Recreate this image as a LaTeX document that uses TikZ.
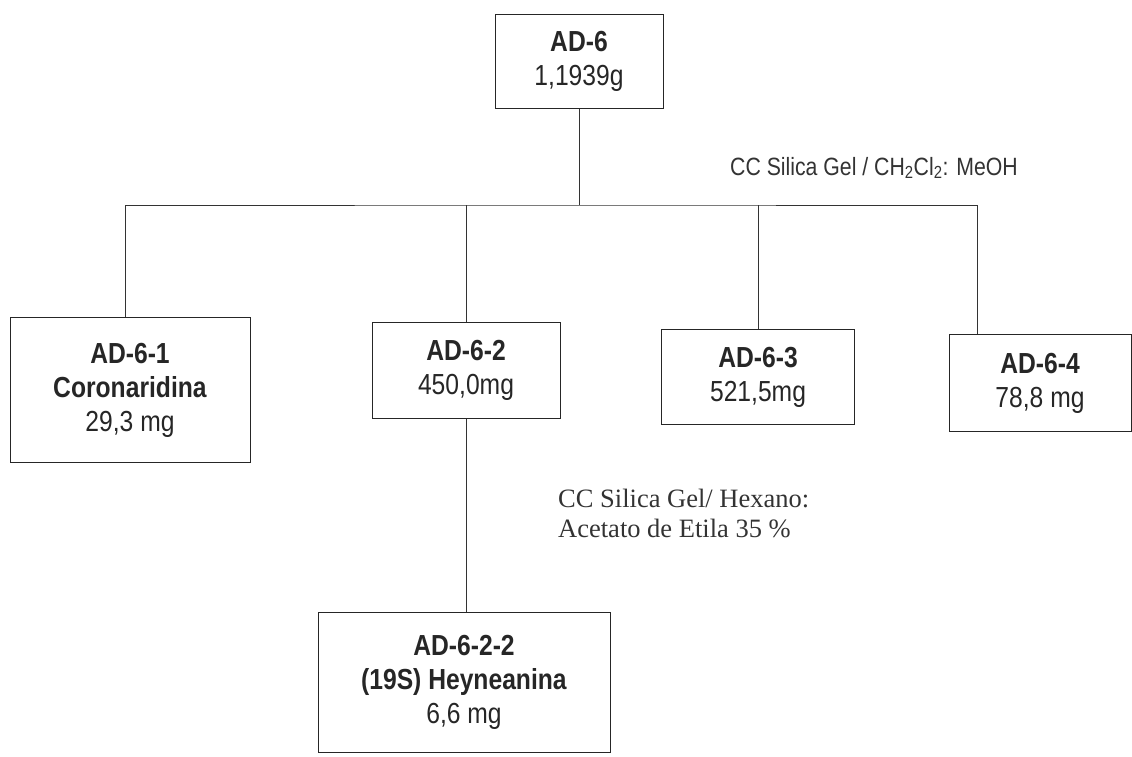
\documentclass[tikz,border=0pt]{standalone}
\usepackage{fontspec}
\setmainfont[FakeStretch=0.85]{Liberation Sans}
\newfontfamily\solserif{Liberation Serif}
\tikzset{
  fraction/.style={draw=black!85, line width=1pt, align=center, inner sep=0pt,
    font=\fontsize{29}{34}\selectfont, text=black!85},
  solvent/.style={font=\fontsize{25}{29}\selectfont, text=black!80, inner sep=0pt},
  link/.style={draw=black!80, line width=1pt}
}
\begin{document}
\begin{tikzpicture}[x=1pt,y=-1pt]
    \useasboundingbox (0,0) rectangle (1132,756);
    % Starting fraction
    \node[fraction, minimum width=168, minimum height=94] (ad6) at (579,61) {\textbf{AD-6}\\1,1939g};
    \coordinate (bar) at (579,205);
    \node[solvent, anchor=west] (sol1) at (730,168) {CC Silica Gel / CH\textsubscript{2}Cl\textsubscript{2}: MeOH};
    % Fractions of the column
    \node[fraction, minimum width=240, minimum height=145] (ad61) at (130,390) {\textbf{AD-6-1}\\\textbf{Coronaridina}\\29,3 mg};
    \node[fraction, minimum width=188, minimum height=96] (ad62) at (466,370) {\textbf{AD-6-2}\\450,0mg};
    \node[fraction, minimum width=193, minimum height=95] (ad63) at (758,377) {\textbf{AD-6-3}\\521,5mg};
    \node[fraction, minimum width=182, minimum height=97] (ad64) at (1040,383) {\textbf{AD-6-4}\\78,8 mg};
    \draw[link] (ad6.south) -- (bar);
    \draw[link] (ad61.north -| 125,0) |- (bar) -| (977,0 |- ad64.north);
    \draw[link] (ad62.north) -- (ad62 |- bar);
    \draw[link] (ad63.north) -- (ad63 |- bar);
    % Second column
    \node[solvent, anchor=west, align=left, font=\solserif\fontsize{26.5}{30}\selectfont] (sol2) at (558,513) {CC Silica Gel/ Hexano:\\Acetato de Etila 35 \%};
    \node[fraction, minimum width=292, minimum height=140] (ad622) at (464,682) {\textbf{AD-6-2-2}\\\textbf{(19S) Heyneanina}\\6,6 mg};
    \draw[link] (ad62.south) -- (ad62.south |- ad622.north);
\end{tikzpicture}
\end{document}
